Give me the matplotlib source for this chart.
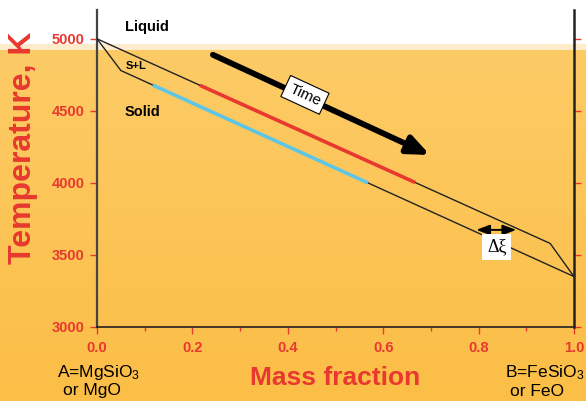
import numpy as np
import matplotlib
matplotlib.use("Agg")
import matplotlib.pyplot as plt

plt.rcParams['font.family'] = ['Liberation Sans', 'DejaVu Sans']
plt.rcParams['mathtext.fontset'] = 'custom'
plt.rcParams['mathtext.rm'] = 'Liberation Sans'
plt.rcParams['mathtext.it'] = 'Liberation Sans:italic'

# Phase diagram of a binary A-B system
liquidus_x = [0.0, 0.95, 1.0]
liquidus_T = [5000, 3580, 3350]
solidus_x = [0.0, 0.05, 1.0]
solidus_T = [5000, 4780, 3350]

# Composition ranges of coexisting melt and solid
melt_range = [0.216, 0.667]
solid_range = [0.117, 0.568]

x_ticks = [0.0, 0.2, 0.4, 0.6, 0.8, 1.0]
x_tick_labels = ['0.0', '0.2', '0.4', '0.6', '0.8', '1.0']
y_ticks = [3000, 3500, 4000, 4500, 5000]

RED = '#e8382f'
CYAN = '#5ec6e4'

fig = plt.figure(figsize=(5.86, 4.01), dpi=100)

# Background: white top, pale band, then an orange gradient
bg = fig.add_axes([0, 0, 1, 1], zorder=-10)
bg.set_axis_off()
H = 401
rows = np.zeros((H, 1, 3))
top_orange = np.array([253, 203, 102]) / 255
bot_orange = np.array([251, 190, 70]) / 255
for i in range(H):
    if i < 44:
        rows[i, 0] = [1, 1, 1]
    elif i < 50:
        rows[i, 0] = np.array([254, 236, 204]) / 255
    else:
        t = (i - 50) / (H - 50)
        rows[i, 0] = top_orange * (1 - t) + bot_orange * t
bg.imshow(rows, aspect='auto', extent=[0, 1, 0, 1], interpolation='bilinear')
bg.set_xlim(0, 1)
bg.set_ylim(0, 1)

ax = fig.add_axes([97 / 586, 74 / 401, 477 / 586, 317 / 401])
ax.patch.set_alpha(0)
ax.set_xlim(0, 1)
ax.set_ylim(3000, 5200)

ax.plot(liquidus_x, liquidus_T, color='#222222', lw=1.0, zorder=3)
ax.plot(solidus_x, solidus_T, color='#222222', lw=1.0, zorder=3)

mx = np.array(melt_range)
ax.plot(mx, np.interp(mx, liquidus_x, liquidus_T), color=RED, lw=2.6,
        solid_capstyle='butt', zorder=4)
sx = np.array(solid_range)
ax.plot(sx, np.interp(sx, solidus_x, solidus_T), color=CYAN, lw=2.6,
        solid_capstyle='butt', zorder=4)

# Spines and ticks
ax.spines['top'].set_visible(False)
ax.spines['left'].set_color('#444444')
ax.spines['left'].set_linewidth(1.6)
ax.spines['right'].set_color('#222222')
ax.spines['right'].set_linewidth(1.8)
ax.spines['bottom'].set_color('#222222')
ax.spines['bottom'].set_linewidth(1.2)

ax.set_xticks(x_ticks)
ax.set_xticklabels(x_tick_labels)
ax.set_xticks([0.1, 0.3, 0.5, 0.7, 0.9], minor=True)
ax.set_yticks(y_ticks)
ax.tick_params(axis='x', which='major', direction='out', length=5, width=1,
               color=RED, labelcolor=RED, labelsize=10.5, pad=5)
ax.tick_params(axis='x', which='minor', direction='out', length=3, width=1,
               color=RED)
ax.tick_params(axis='y', which='major', direction='out', length=5, width=1,
               color=RED, labelcolor=RED, labelsize=10.5, pad=4,
               right=True)
for lab in ax.get_xticklabels() + ax.get_yticklabels():
    lab.set_fontweight('bold')

ax.set_ylabel('Temperature, K', color=RED, fontsize=23, fontweight='bold')
ax.yaxis.set_label_coords(-0.124, 0.565)
ax.set_xlabel('Mass fraction', color=RED, fontsize=19, fontweight='bold')
ax.xaxis.set_label_coords(0.5, -0.123)

# Phase field labels
ax.text(0.058, 5083, 'Liquid', fontsize=10.5, fontweight='bold',
        va='center', ha='left')
ax.text(0.06, 4812, 'S+L', fontsize=8, fontweight='bold',
        va='center', ha='left')
ax.text(0.058, 4493, 'Solid', fontsize=10.5, fontweight='bold',
        va='center', ha='left')

# Time arrow
ax.annotate('', xy=(0.698, 4194), xytext=(0.243, 4889),
            arrowprops=dict(arrowstyle='-|>,head_length=1.3,head_width=0.55',
                            lw=4.2, color='black', shrinkA=0, shrinkB=0),
            zorder=5)
p0 = ax.transData.transform((0.243, 4889))
p1 = ax.transData.transform((0.698, 4194))
ang = np.degrees(np.arctan2(p1[1] - p0[1], p1[0] - p0[0]))
ax.text(0.436, 4611, 'Time', fontsize=11, rotation=ang,
        rotation_mode='anchor', ha='center', va='center', zorder=6,
        bbox=dict(boxstyle='square,pad=0.3', fc='white', ec='black', lw=0.8))

# Composition gap between liquidus and solidus
ax.annotate('', xy=(0.879, 3674), xytext=(0.795, 3674),
            arrowprops=dict(arrowstyle='<|-|>,head_length=0.8,head_width=0.3',
                            lw=1.4, color='black', shrinkA=0, shrinkB=0),
            zorder=5)
ax.text(0.838, 3556, 'Δξ', fontsize=13, family=['Liberation Serif'],
        ha='center', va='center', zorder=6,
        bbox=dict(boxstyle='square,pad=0.25', fc='white', ec='none'))

# End-member labels
fig.text(57 / 586, 1 - 373 / 401, 'A=MgSiO$_3$', fontsize=12.5,
         ha='left', va='center')
fig.text(63 / 586, 1 - 391 / 401, 'or MgO', fontsize=12.5,
         ha='left', va='center')
fig.text(505 / 586, 1 - 373 / 401, 'B=FeSiO$_3$', fontsize=12.5,
         ha='left', va='center')
fig.text(510 / 586, 1 - 391 / 401, 'or FeO', fontsize=12.5,
         ha='left', va='center')

fig.savefig('out.png', dpi=100)
